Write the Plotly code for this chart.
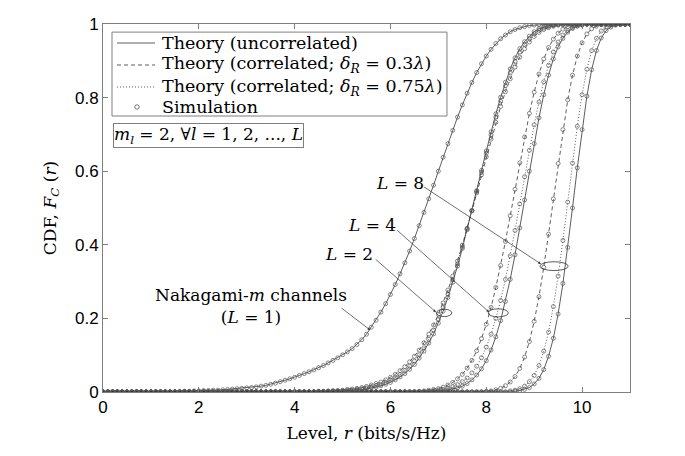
import plotly.graph_objects as go

# ---------------- data ----------------
# Level r (bits/s/Hz) grid used for theory curves and simulation points
R = [round(0.1 * i, 1) for i in range(111)]  # 0.0 ... 11.0

# CDF values x1000 along R
L1 = [0]*17 + [2,2,3,3,4,4,5,5,6,7,8,9,10,11,12,14,16,18,21,24,28,32,36,40,45,50,55,60,66,72,
               79,86,93,101,109,118,129,142,157,
               176,195,217,240,265,292,321,351,383,417,452,488,525,562,600,638,675,711,747,780,
               812,841,868,892,913,931,947,960,970,979,985,990,993,996,997,998] + [1000]*19
L2_UNC = [0]*49 + [2,2,3,4,5,7,8,11,13,17,21,26,33,41,50,62,75,92,111,133,158,187,220,257,298,342,390,
                   441,493,547,602,655,707,756,801,842,878,908,933,952,967,979,987,992,995,997] + [1000]*16
L2_C03 = [0]*45 + [2,2,3,4,4,5,7,8,10,12,15,19,23,27,33,40,48,58,69,82,97,114,134,157,182,211,242,277,
                   315,356,399,445,492,541,590,639,687,733,776,816,851,883,910,933,951,966,977,985,990,
                   994,997,998] + [1000]*14
L2_C075 = [0]*47 + [2,2,3,3,4,5,7,9,11,13,17,21,26,32,39,47,58,70,84,101,120,143,168,197,230,266,305,
                    348,394,443,493,545,597,649,699,747,791,832,867,898,924,945,961,974,983,989,994,996,
                    998] + [1000]*15
L4_UNC = [0]*70 + [2,3,5,7,11,16,23,33,46,63,85,114,150,194,246,306,373,446,522,600,675,745,808,861,
                   905,938,961,978,988,994,997] + [1000]*10
L4_C03 = [0]*66 + [2,3,5,7,9,13,19,26,36,48,65,86,112,145,184,230,284,344,409,479,551,623,693,757,815,
                   864,905,936,959,975,986,993,996,998] + [1000]*11
L4_C075 = [0]*68 + [2,3,5,7,10,14,20,28,38,52,70,93,122,157,200,249,306,370,439,511,585,657,726,788,
                    843,888,924,951,970,982,990,995,998] + [1000]*10
L8_UNC = [0]*86 + [2,4,7,12,22,37,61,97,146,212,295,393,500,609,713,804,876,928,962,982,992,997] + [1000]*3
L8_C03 = [0]*80 + [2,3,6,10,17,27,42,64,95,137,192,259,339,429,525,621,713,794,861,913,949,973,987,
                   994,998] + [1000]*6
L8_C075 = [0]*85 + [3,5,9,16,28,45,72,111,163,232,315,412,516,622,722,808,877,928,961,981,992,
                    997] + [1000]*4

X_TICKS = [0, 2, 4, 6, 8, 10]
Y_TICKS = [0, 0.2, 0.4, 0.6, 0.8, 1]
Y_TICKTEXT = ["0", "0.2", "0.4", "0.6", "0.8", "1"]

LEGEND_NAMES = ["Theory (uncorrelated)",
                "Theory (correlated; <i>δ</i><sub><i>R</i></sub> = 0.3<i>λ</i>)",
                "Theory (correlated; <i>δ</i><sub><i>R</i></sub> = 0.75<i>λ</i>)",
                "Simulation"]

# ---------------- figure ----------------
SERIF = "DejaVu Serif"
SANS = "Liberation Sans, Arial"
LC = "#333333"
MC = "#555555"
BOX = "#7f7f7f"
DASHES = {"unc": "solid", "c03": "4px,3px", "c075": "1px,2px"}

fig = go.Figure()
series = [(L1, "unc"),
          (L2_C03, "c03"), (L2_C075, "c075"), (L2_UNC, "unc"),
          (L4_C03, "c03"), (L4_C075, "c075"), (L4_UNC, "unc"),
          (L8_C03, "c03"), (L8_C075, "c075"), (L8_UNC, "unc")]
for vals, key in series:
    ys = [v / 1000 for v in vals]
    fig.add_trace(go.Scatter(x=R, y=ys, mode="lines", showlegend=False, hoverinfo="skip",
                             line=dict(color=LC, width=0.8, dash=DASHES[key])))
for vals, key in series:
    ys = [v / 1000 for v in vals]
    fig.add_trace(go.Scatter(x=R, y=ys, mode="markers", showlegend=False, hoverinfo="skip",
                             marker=dict(symbol="circle-open", size=4, color=MC, line=dict(width=0.7))))

# ellipses marking each curve group
ELLIPSES = [(9.12, 9.71, 0.330, 0.354), (8.04, 8.46, 0.204, 0.226), (6.96, 7.28, 0.205, 0.225)]
for x0, x1, y0, y1 in ELLIPSES:
    fig.add_shape(type="circle", xref="x", yref="y", x0=x0, x1=x1, y0=y0, y1=y1,
                  line=dict(color=LC, width=0.8))

ARROWS = [((6.67, 0.560), (9.14, 0.348)),
          ((6.11, 0.443), (8.06, 0.217)),
          ((5.66, 0.364), (6.95, 0.217)),
          ((4.95, 0.231), (5.58, 0.168))]
for (tx, ty), (hx, hy) in ARROWS:
    fig.add_annotation(x=hx, y=hy, ax=tx, ay=ty, xref="x", yref="y", axref="x", ayref="y",
                       text="", showarrow=True, arrowhead=2, arrowsize=0.8, arrowwidth=0.7,
                       arrowcolor=LC, standoff=0, startstandoff=0)

LABELS = [(6.19, 0.568, "<i>L</i> = 8"), (5.62, 0.454, "<i>L</i> = 4"), (5.14, 0.375, "<i>L</i> = 2"),
          (3.09, 0.233, "Nakagami-<i>m</i> channels<br>(<i>L</i> = 1)")]
for x, y, t in LABELS:
    fig.add_annotation(x=x, y=y, xref="x", yref="y", text=t, showarrow=False,
                       font=dict(family=SERIF, size=17, color="black"), align="center")

# ---- legend box drawn in paper coordinates ----
LEG_X0, LEG_X1, LEG_Y0, LEG_Y1 = 0.0171, 0.6527, 0.750, 0.978
ROW_Y = [0.9484, 0.8886, 0.8288, 0.7745]
SAMPLE_X0, SAMPLE_X1, TEXT_X = 0.0266, 0.0987, 0.1082
fig.add_shape(type="rect", xref="paper", yref="paper", x0=LEG_X0, x1=LEG_X1, y0=LEG_Y0, y1=LEG_Y1,
              line=dict(color=BOX, width=1), fillcolor="white", layer="above")
for yy, key in zip(ROW_Y[:3], ["unc", "c03", "c075"]):
    fig.add_shape(type="line", xref="paper", yref="paper", x0=SAMPLE_X0, x1=SAMPLE_X1, y0=yy, y1=yy,
                  line=dict(color=LC, width=0.8, dash=DASHES[key]), layer="above")
fig.add_shape(type="circle", xref="paper", yref="paper", x0=0.0603, x1=0.0687,
              y0=ROW_Y[3] - 0.006, y1=ROW_Y[3] + 0.006, line=dict(color=MC, width=0.8), layer="above")
for yy, nm in zip(ROW_Y, LEGEND_NAMES):
    fig.add_annotation(x=TEXT_X, y=yy, xref="paper", yref="paper", xanchor="left", yanchor="middle",
                       text=nm, showarrow=False, font=dict(family=SERIF, size=17.5, color="black"))

fig.add_annotation(x=0.019, y=0.731, xref="paper", yref="paper", xanchor="left", yanchor="top",
                   text="<i>m</i><sub><i>l</i></sub> = 2, ∀<i>l</i> = 1, 2, ..., <i>L</i>",
                   showarrow=False, bordercolor=BOX, borderwidth=1, borderpad=0,
                   bgcolor="white", font=dict(family=SERIF, size=17, color="black"))

axis_common = dict(showline=True, linecolor=BOX, linewidth=1, mirror="ticks",
                   ticks="inside", ticklen=5, tickcolor=BOX, showgrid=False, zeroline=False,
                   tickfont=dict(family=SANS, size=17, color="black"))
fig.update_xaxes(range=[0, 11], tickvals=X_TICKS, ticktext=[str(v) for v in X_TICKS],
                 title=dict(text="Level, <i>r</i> (bits/s/Hz)", font=dict(family=SERIF, size=17, color="black"),
                            standoff=10), **axis_common)
fig.update_yaxes(range=[0, 1], tickvals=Y_TICKS, ticktext=Y_TICKTEXT,
                 title=dict(text="CDF, <i>F</i><sub><i>C</i></sub> (<i>r</i>)",
                            font=dict(family=SERIF, size=17, color="black"), standoff=14), **axis_common)

fig.update_layout(width=685, height=456, margin=dict(l=103, r=55, t=24, b=64),
                  plot_bgcolor="white", paper_bgcolor="white", showlegend=False)

fig.write_html("out.html")
